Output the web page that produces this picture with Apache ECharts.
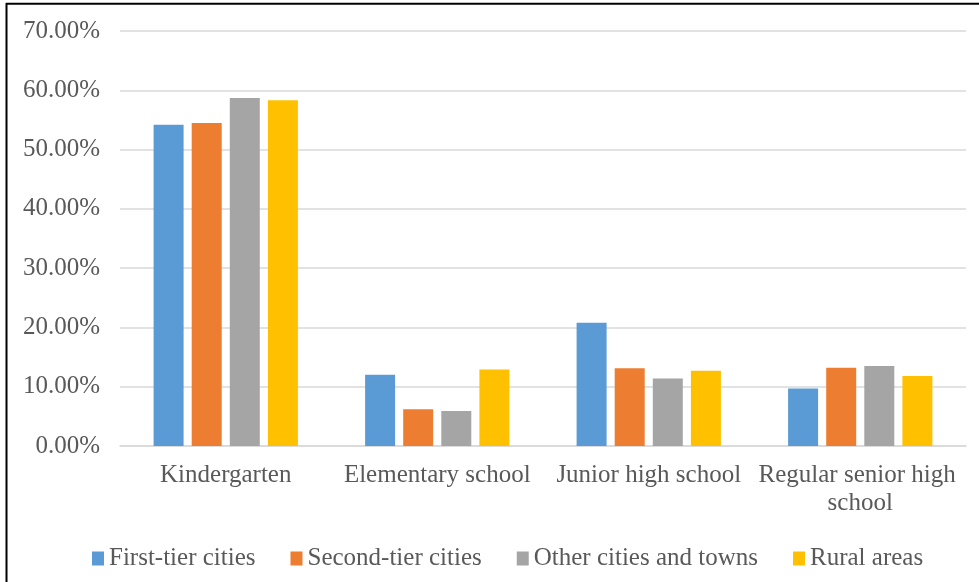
<!DOCTYPE html>
<html>
<head>
<meta charset="utf-8">
<script src="https://cdn.jsdelivr.net/npm/echarts@6/dist/echarts.min.js"></script>
<style>
  html, body { margin: 0; padding: 0; background: #fff; }
  #chart { width: 979px; height: 582px; }
</style>
</head>
<body>
<div id="chart"></div>
<script>
// School levels along the x axis
const categories = ['Kindergarten', 'Elementary school', 'Junior high school', 'Regular senior high school'];

// Share of respondents (%) per region type
const firstTier = [54.2, 12.0, 20.8, 9.7];
const secondTier = [54.5, 6.2, 13.1, 13.2];
const otherCities = [58.7, 5.9, 11.4, 13.5];
const rural = [58.3, 12.9, 12.7, 11.8];

const seriesNames = ['First-tier cities', 'Second-tier cities', 'Other cities and towns', 'Rural areas'];
const seriesColors = ['#5b9bd5', '#ed7d31', '#a5a5a5', '#ffc000'];
const seriesValues = [firstTier, secondTier, otherCities, rural];

const yTicks = { min: 0, max: 70, interval: 10 };

const font = '"Liberation Serif", "Times New Roman", serif';
const textColor = '#595959';

const chart = echarts.init(document.getElementById('chart'));

chart.setOption({
  backgroundColor: '#fff',
  animation: false,
  grid: { left: 120, right: 13, top: 31, bottom: 136, containLabel: false },
  legend: {
    left: 92,
    top: 546,
    padding: 0,
    itemWidth: 12,
    itemHeight: 14,
    itemGap: 35,
    icon: 'rect',
    textStyle: { fontFamily: font, fontSize: 25, color: textColor },
    data: seriesNames
  },
  xAxis: {
    type: 'category',
    data: categories,
    axisLine: { show: true, lineStyle: { color: '#d9d9d9', width: 1.5 } },
    axisTick: { show: false },
    axisLabel: {
      fontFamily: font,
      fontSize: 25,
      color: textColor,
      margin: 15,
      lineHeight: 28,
      width: 210,
      overflow: 'break',
      interval: 0
    }
  },
  yAxis: {
    type: 'value',
    min: yTicks.min,
    max: yTicks.max,
    interval: yTicks.interval,
    axisLine: { show: false },
    axisTick: { show: false },
    splitLine: { show: true, lineStyle: { color: '#d9d9d9', width: 1.5 } },
    axisLabel: {
      fontFamily: font,
      fontSize: 25,
      color: textColor,
      margin: 20,
      formatter: v => v.toFixed(2) + '%'
    }
  },
  series: seriesNames.map((name, i) => ({
    name,
    type: 'bar',
    data: seriesValues[i],
    barWidth: 30,
    barGap: '27%',
    itemStyle: { color: seriesColors[i] }
  })),
  graphic: [
    { type: 'line', shape: { x1: 6.5, y1: 3, x2: 6.5, y2: 582 }, style: { stroke: '#000', lineWidth: 2 } },
    { type: 'line', shape: { x1: 6, y1: 3.8, x2: 979, y2: 3.8 }, style: { stroke: '#000', lineWidth: 2 } }
  ]
});
</script>
</body>
</html>
